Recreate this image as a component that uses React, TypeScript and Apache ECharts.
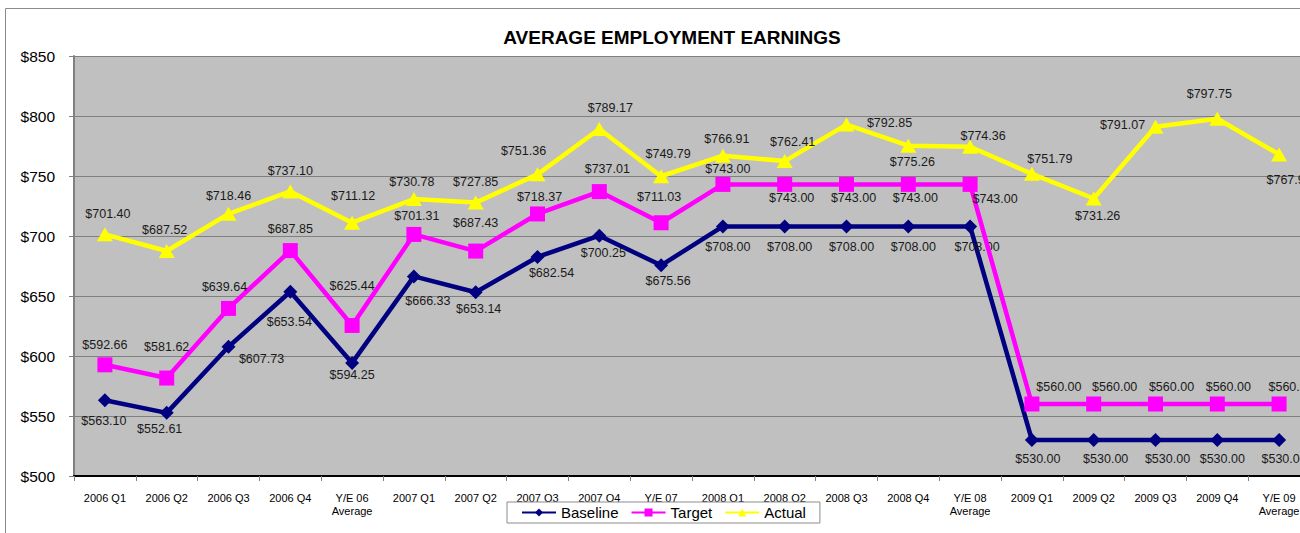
import React, { useEffect, useRef } from "react";
import * as echarts from "echarts";

const categories = [
  "2006 Q1", "2006 Q2", "2006 Q3", "2006 Q4", "Y/E 06\nAverage",
  "2007 Q1", "2007 Q2", "2007 Q3", "2007 Q4", "Y/E 07",
  "2008 Q1", "2008 Q2", "2008 Q3", "2008 Q4", "Y/E 08\nAverage",
  "2009 Q1", "2009 Q2", "2009 Q3", "2009 Q4", "Y/E 09\nAverage",
];

const baseline = [
  563.10, 552.61, 607.73, 653.54, 594.25,
  666.33, 653.14, 682.54, 700.25, 675.56,
  708.00, 708.00, 708.00, 708.00, 708.00,
  530.00, 530.00, 530.00, 530.00, 530.00,
];

const target = [
  592.66, 581.62, 639.64, 687.85, 625.44,
  701.31, 687.43, 718.37, 737.01, 711.03,
  743.00, 743.00, 743.00, 743.00, 743.00,
  560.00, 560.00, 560.00, 560.00, 560.00,
];

const actual = [
  701.40, 687.52, 718.46, 737.10, 711.12,
  730.78, 727.85, 751.36, 789.17, 749.79,
  766.91, 762.41, 792.85, 775.26, 774.36,
  751.79, 731.26, 791.07, 797.75, 767.92,
];

const yTicks = { min: 500, max: 850, interval: 50 };

// label placement (offsets from the marker centre, in px)
const baselineLabelOffsets = [
  [-1, 21], [-7, 16], [33, 12], [-1, 30], [0, 12],
  [14, 25], [3, 17], [14, 16], [4, 17], [7, 16],
  [5, 21], [5, 21], [5, 21], [5, 21], [7, 21],
  [6, 19], [12, 19], [12, 19], [5, 19], [5, 19],
];
const targetLabelOffsets = [
  [0, -20], [0, -31], [-4, -21], [0, -22], [0, -39],
  [3, -18], [0, -28], [2, -17], [8, -23], [-2, -26],
  [5, -15], [7, 14], [7, 14], [7, 14], [25, 15],
  [27, -17], [21, -17], [16, -17], [11, -17], [12, -17],
];
const actualLabelOffsets = [
  [3, -20], [-2, -21], [0, -18], [0, -20], [1, -27],
  [-2, -17], [0, -21], [-14, -23], [11, -21], [7, -22],
  [4, -17], [8, -19], [43, -2], [4, 16], [13, -11],
  [18, -15], [4, 18], [-33, -2], [-8, -25], [10, 26],
];

const FONT = "'Liberation Sans', Arial, sans-serif";

function buildData(values: number[], offsets: number[][]) {
  return values.map((v, i) => ({
    value: v,
    label: { offset: offsets[i] },
  }));
}

const labelBase = {
  show: true,
  position: "inside",
  color: "#1a1a1a",
  fontSize: 12.5,
  fontFamily: FONT,
  formatter: (p: any) => "$" + Number(p.value).toFixed(2),
};

export default function App() {
  const ref = useRef<HTMLDivElement>(null);
  useEffect(() => {
    if (!ref.current) return;
    const chart = echarts.init(ref.current, null, { renderer: "svg" });
    chart.setOption({
      animation: false,
      backgroundColor: "#ffffff",
      title: {
        text: "AVERAGE EMPLOYMENT EARNINGS",
        left: 672,
        top: 28,
        padding: 0,
        textAlign: "center",
        textStyle: { fontFamily: FONT, fontSize: 19, fontWeight: "bold", color: "#000" },
      },
      graphic: [
        {
          type: "rect",
          shape: { x: 5.5, y: 8.5, width: 1400, height: 700 },
          style: { fill: "none", stroke: "#8c8c8c", lineWidth: 1 },
          silent: true,
          z: -10,
        },
      ],
      legend: {
        left: 507,
        top: 502,
        orient: "horizontal",
        itemWidth: 34,
        itemHeight: 10,
        itemGap: 12,
        padding: [3, 14, 3, 14],
        borderColor: "#8c8c8c",
        borderWidth: 1,
        backgroundColor: "#ffffff",
        textStyle: { fontFamily: FONT, fontSize: 15, color: "#000" },
        data: ["Baseline", "Target", "Actual"],
      },
      grid: {
        left: 74,
        top: 56,
        right: 0,
        bottom: 57,
        show: true,
        backgroundColor: "#C0C0C0",
        borderWidth: 0,
      },
      xAxis: {
        type: "category",
        data: categories,
        boundaryGap: true,
        axisLine: { show: true, lineStyle: { color: "#000", width: 2 } },
        axisTick: { show: true, length: 5, lineStyle: { color: "#808080" } },
        axisLabel: {
          fontFamily: FONT,
          fontSize: 11,
          color: "#000",
          margin: 15,
          lineHeight: 13,
          interval: 0,
        },
        splitLine: { show: false },
      },
      yAxis: {
        type: "value",
        min: yTicks.min,
        max: yTicks.max,
        interval: yTicks.interval,
        axisLine: { show: true, lineStyle: { color: "#808080", width: 2 } },
        axisTick: { show: true, length: 5, lineStyle: { color: "#808080" } },
        axisLabel: {
          fontFamily: FONT,
          fontSize: 15.5,
          color: "#000",
          margin: 19,
          formatter: (v: number) => "$" + v,
        },
        splitLine: { show: true, lineStyle: { color: "#808080", width: 1 } },
      },
      series: [
        {
          name: "Baseline",
          type: "line",
          data: buildData(baseline, baselineLabelOffsets),
          symbol: "diamond",
          symbolSize: 14,
          lineStyle: { color: "#000080", width: 4.5 },
          itemStyle: { color: "#000080" },
          label: labelBase,
          z: 2,
        },
        {
          name: "Target",
          type: "line",
          data: buildData(target, targetLabelOffsets),
          symbol: "rect",
          symbolSize: 15,
          lineStyle: { color: "#FF00FF", width: 4.5 },
          itemStyle: { color: "#FF00FF" },
          label: labelBase,
          z: 3,
        },
        {
          name: "Actual",
          type: "line",
          data: buildData(actual, actualLabelOffsets),
          symbol: "triangle",
          symbolSize: [16, 14],
          lineStyle: { color: "#FFFF00", width: 4.5 },
          itemStyle: { color: "#FFFF00" },
          label: labelBase,
          z: 4,
        },
      ],
    });
    return () => chart.dispose();
  }, []);
  return (
    <div
      style={{
        position: "fixed",
        left: 0,
        top: 0,
        width: 1300,
        height: 533,
        overflow: "hidden",
      }}
    >
      <div ref={ref} style={{ width: 1310, height: 533 }} />
    </div>
  );
}
